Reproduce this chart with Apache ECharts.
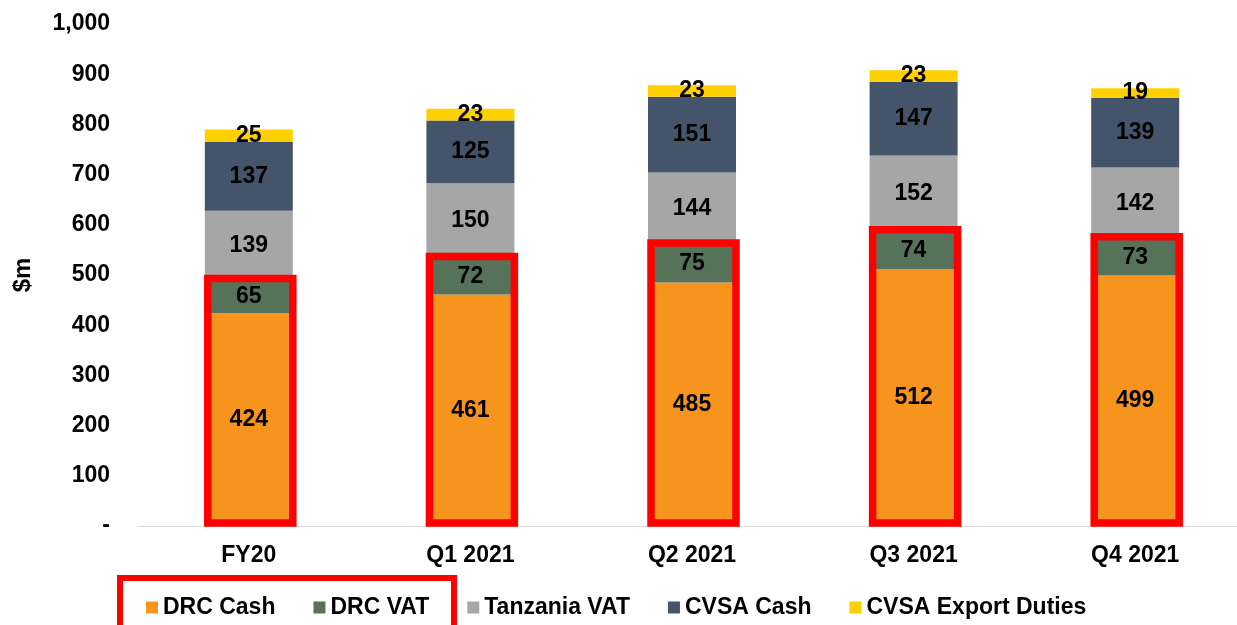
<!DOCTYPE html>
<html>
<head>
<meta charset="utf-8">
<script src="https://cdn.jsdelivr.net/npm/echarts@6/dist/echarts.min.js"></script>
<style>
  html, body { margin: 0; padding: 0; background: #fff; }
  #chart { width: 1237px; height: 625px; }
</style>
</head>
<body>
<div id="chart"></div>
<script>
var categories = ['FY20', 'Q1 2021', 'Q2 2021', 'Q3 2021', 'Q4 2021'];
var drcCash = [424, 461, 485, 512, 499];
var drcVat = [65, 72, 75, 74, 73];
var tanzaniaVat = [139, 150, 144, 152, 142];
var cvsaCash = [137, 125, 151, 147, 139];
var cvsaExport = [25, 23, 23, 23, 19];
var yTicks = [0, 100, 200, 300, 400, 500, 600, 700, 800, 900, 1000];

// red highlight drawn round the DRC part of each bar
var drcTotal = drcCash.map(function (v, i) { return [i, v + drcVat[i]]; });

var font = "'Liberation Sans', Arial, sans-serif";

function stackSeries(name, data, color) {
  return {
    name: name,
    type: 'bar',
    stack: 'total',
    data: data,
    barWidth: 88,
    itemStyle: { color: color },
    label: {
      show: true,
      position: 'inside',
      color: '#000',
      fontWeight: 'bold',
      fontSize: 23,
      fontFamily: font
    }
  };
}

var chart = echarts.init(document.getElementById('chart'));

var option = {
  animation: false,
  grid: { left: 138, width: 1108, top: 24, bottom: 99, outerBoundsMode: 'none', containLabel: false },
  xAxis: {
    type: 'category',
    data: categories,
    axisTick: { show: false },
    axisLine: { lineStyle: { color: '#D9D9D9', width: 1 } },
    axisLabel: {
      margin: 18,
      color: '#000',
      fontWeight: 'bold',
      fontSize: 23,
      fontFamily: font
    }
  },
  yAxis: {
    type: 'value',
    min: yTicks[0],
    max: yTicks[yTicks.length - 1],
    interval: 100,
    name: '$m',
    nameLocation: 'middle',
    nameGap: 103,
    nameRotate: 90,
    nameTextStyle: { color: '#000', fontWeight: 'bold', fontSize: 24, fontFamily: font },
    splitLine: { show: false },
    axisLine: { show: false },
    axisTick: { show: false },
    axisLabel: {
      margin: 28,
      color: '#000',
      fontWeight: 'bold',
      fontSize: 23,
      fontFamily: font,
      formatter: function (v) {
        return v === 0 ? '-' : v.toLocaleString('en-US');
      }
    }
  },
  legend: {
    data: ['DRC Cash', 'DRC VAT', 'Tanzania VAT', 'CVSA Cash', 'CVSA Export Duties'],
    left: 141,
    top: 591,
    itemWidth: 12,
    itemHeight: 12,
    itemGap: 38,
    icon: 'rect',
    textStyle: { color: '#000', fontWeight: 'bold', fontSize: 23, fontFamily: font }
  },
  series: [
    stackSeries('DRC Cash', drcCash, '#F7941D'),
    stackSeries('DRC VAT', drcVat, '#56735A'),
    stackSeries('Tanzania VAT', tanzaniaVat, '#A6A6A6'),
    stackSeries('CVSA Cash', cvsaCash, '#44546A'),
    stackSeries('CVSA Export Duties', cvsaExport, '#FFD000'),
    {
      name: 'highlight',
      type: 'custom',
      data: drcTotal,
      encode: { x: 0, y: 1 },
      z: 5,
      silent: true,
      renderItem: function (params, api) {
        var top = api.coord([api.value(0), api.value(1)]);
        var base = api.coord([api.value(0), 0]);
        return {
          type: 'rect',
          shape: {
            x: top[0] - 41,
            y: top[1] - 2,
            width: 85,
            height: base[1] - 3 - (top[1] - 2)
          },
          style: { fill: 'none', stroke: '#FF0000', lineWidth: 7.5 }
        };
      }
    }
  ],
  graphic: [
    {
      type: 'rect',
      shape: { x: 120, y: 578, width: 334, height: 60 },
      style: { fill: 'none', stroke: '#FF0000', lineWidth: 6 },
      z: 10
    }
  ]
};

chart.setOption(option);
window.addEventListener('resize', function () {
  chart.resize();
});
</script>
</body>
</html>
